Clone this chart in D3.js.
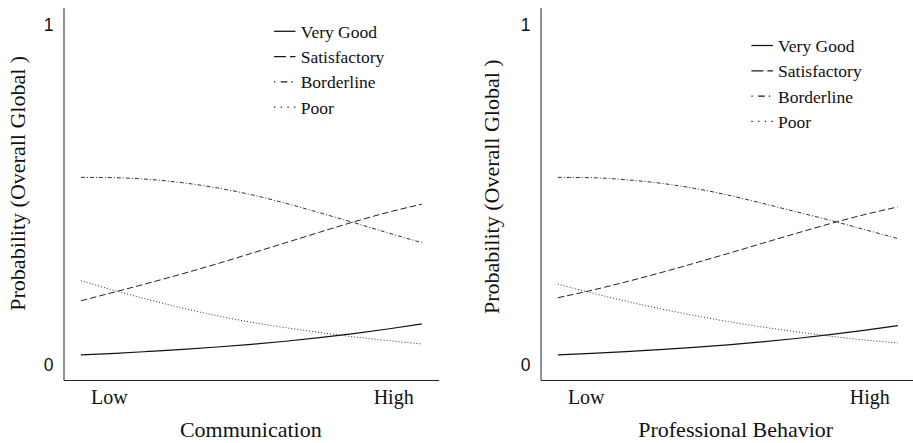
<!DOCTYPE html>
<html>
<head>
<meta charset="utf-8">
<script src="https://cdn.jsdelivr.net/npm/d3@7"></script>
<style>
  html, body { margin: 0; padding: 0; background: #fff; }
  svg { display: block; }
</style>
</head>
<body>
<svg id="chart" width="913" height="443"></svg>
<script>
// ---- data ----
const categories = ["Very Good", "Satisfactory", "Borderline", "Poor"];
const xTickLabels = ["Low", "High"];
const xTickPositions = [0.082, 0.916];
const yTickValues = [0, 1];
const xGrid = [0, 0.1, 0.2, 0.3, 0.4, 0.5, 0.6, 0.7, 0.8, 0.9, 1.0];

const commVeryGood    = [0.029, 0.0335, 0.039, 0.045, 0.052, 0.060, 0.069, 0.0795, 0.0915, 0.105, 0.120];
const commSatisfactory= [0.188, 0.214, 0.2405, 0.268, 0.297, 0.3275, 0.3585, 0.3895, 0.420, 0.448, 0.472];
const commBorderline  = [0.551, 0.550, 0.545, 0.535, 0.520, 0.500, 0.475, 0.447, 0.418, 0.388, 0.359];
const commPoor        = [0.247, 0.218, 0.191, 0.166, 0.144, 0.125, 0.109, 0.095, 0.082, 0.071, 0.061];

const profVeryGood    = [0.029, 0.0335, 0.0385, 0.0445, 0.051, 0.0585, 0.067, 0.077, 0.0885, 0.101, 0.115];
const profSatisfactory= [0.197, 0.219, 0.2435, 0.270, 0.298, 0.327, 0.3565, 0.386, 0.4145, 0.441, 0.464];
const profBorderline  = [0.551, 0.550, 0.544, 0.534, 0.519, 0.499, 0.475, 0.450, 0.425, 0.398, 0.371];
const profPoor        = [0.237, 0.211, 0.187, 0.165, 0.145, 0.127, 0.111, 0.097, 0.084, 0.073, 0.064];

const panelTitles = ["Communication", "Professional Behavior"];
const yTitle = "Probability (Overall Global )";

// ---- styles ----
const lineStyles = [
  { stroke: "#111", width: 1.2, dash: null,        legendDash: null },
  { stroke: "#222", width: 1.0, dash: "6.5,3",     legendDash: "12,4" },
  { stroke: "#333", width: 1.0, dash: "4,2,1,2",   legendDash: "1.3,5.4,6.7,4" },
  { stroke: "#333", width: 1.0, dash: "1,2",       legendDash: "1.3,5.4" }
];

const panels = [
  { series: [commVeryGood, commSatisfactory, commBorderline, commPoor],
    x0: 63.5, xEnd: 438.5, title: panelTitles[0], titleX: 250.8,
    yTitleX: 24.5, yTitleY: 183.3, legendX: 274, legendY: 31.3 },
  { series: [profVeryGood, profSatisfactory, profBorderline, profPoor],
    x0: 540.5, xEnd: 914.5, title: panelTitles[1], titleX: 735.7,
    yTitleX: 499, yTitleY: 186.7, legendX: 751.4, legendY: 45.5 }
];

const svg = d3.select("#chart");
const serif = "'Liberation Serif', 'Times New Roman', Times, serif";
const sans = "'Liberation Sans', Arial, Helvetica, sans-serif";

const y = d3.scaleLinear().domain([-0.045, 1.05]).range([380, 7.7]);

panels.forEach(p => {
  const x = d3.scaleLinear().domain([-0.051, 1.049]).range([p.x0, p.xEnd]);
  const g = svg.append("g");

  // y axis
  const yAxis = d3.axisLeft(y).tickValues(yTickValues).tickSize(0).tickSizeOuter(0).tickPadding(10)
    .tickFormat(d3.format("d"));
  const ya = g.append("g").attr("transform", `translate(${p.x0},0)`).call(yAxis);
  ya.select(".domain").attr("stroke", "#222").attr("stroke-width", 1);
  ya.selectAll("text").style("font-family", sans).style("font-size", "17.5px").attr("fill", "#111");

  // x axis
  const xAxis = d3.axisBottom(x).tickValues(xTickPositions).tickSize(0).tickSizeOuter(0).tickPadding(10)
    .tickFormat((d, i) => xTickLabels[i]);
  const xa = g.append("g").attr("transform", `translate(0,${380})`).call(xAxis);
  xa.select(".domain").attr("stroke", "#222").attr("stroke-width", 1);
  xa.selectAll("text").style("font-family", serif).style("font-size", "20px").attr("fill", "#111");

  // titles
  g.append("text").attr("x", p.titleX).attr("y", 437.3).attr("text-anchor", "middle")
    .style("font-family", serif).style("font-size", "22px").attr("fill", "#111").text(p.title);
  g.append("text").attr("transform", `translate(${p.yTitleX},${p.yTitleY}) rotate(-90)`)
    .attr("text-anchor", "middle").style("font-family", serif).style("font-size", "22px")
    .attr("fill", "#111").text(yTitle);

  // lines
  const line = d3.line().x((d, i) => x(xGrid[i])).y(d => y(d)).curve(d3.curveMonotoneX);
  p.series.forEach((s, k) => {
    const st = lineStyles[k];
    g.append("path").datum(s).attr("d", line).attr("fill", "none")
      .attr("stroke", st.stroke).attr("stroke-width", st.width)
      .attr("stroke-dasharray", st.dash);
  });

  // legend
  categories.forEach((c, k) => {
    const st = lineStyles[k];
    const ly = p.legendY + k * 25.3;
    g.append("line").attr("x1", p.legendX).attr("x2", p.legendX + 21.5)
      .attr("y1", ly).attr("y2", ly)
      .attr("stroke", "#1a1a1a").attr("stroke-width", 1.3)
      .attr("stroke-dasharray", st.legendDash);
    g.append("text").attr("x", p.legendX + 26.7).attr("y", ly + 6.4)
      .style("font-family", serif).style("font-size", "17.5px").attr("fill", "#111").text(c);
  });
});
</script>
</body>
</html>
